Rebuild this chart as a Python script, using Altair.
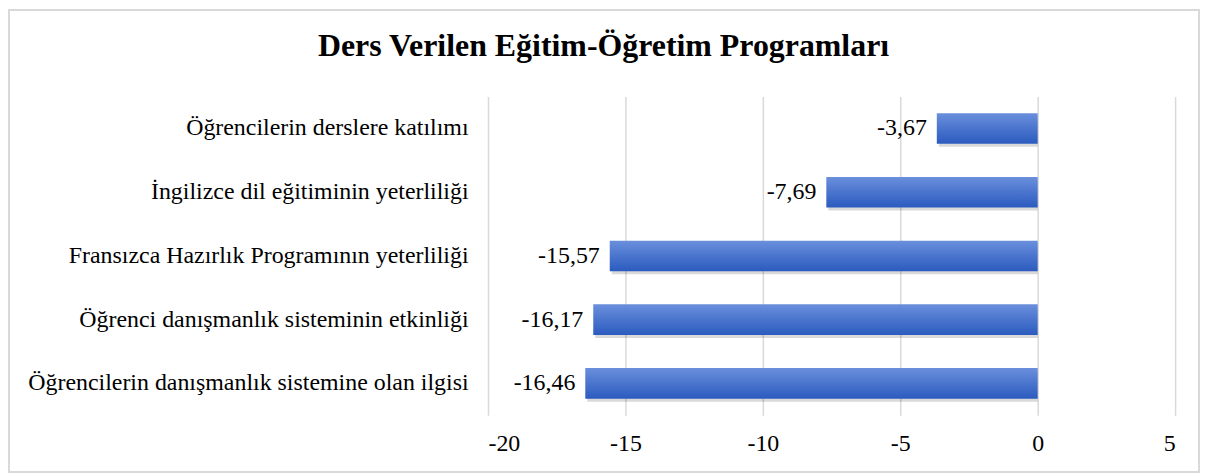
import altair as alt
import pandas as pd

categories = [
    "Öğrencilerin derslere katılımı",
    "İngilizce dil eğitiminin yeterliliği",
    "Fransızca Hazırlık Programının yeterliliği",
    "Öğrenci danışmanlık sisteminin etkinliği",
    "Öğrencilerin danışmanlık sistemine olan ilgisi",
]
values = [-3.67, -7.69, -15.57, -16.17, -16.46]
value_labels = ["-3,67", "-7,69", "-15,57", "-16,17", "-16,46"]
x_ticks = [-20, -15, -10, -5, 0, 5]
title_text = ["Ders Verilen Eğitim-Öğretim Programları"]

FONT = "Liberation Serif"

df = pd.DataFrame({"cat": categories, "val": values, "lab": value_labels})
frame_df = pd.DataFrame({"t": title_text})

y_enc = alt.Y(
    "cat:N", sort=categories, title=None,
    scale=alt.Scale(paddingInner=0.52, paddingOuter=0.26),
    axis=alt.Axis(labelFont=FONT, labelFontSize=24, labelColor="#000000",
                  labelPadding=20, ticks=False, domain=False, grid=False,
                  labelLimit=700),
)
x_enc = alt.X(
    "val:Q", title=None,
    scale=alt.Scale(domain=[-20, 5], nice=False, zero=False),
    axis=alt.Axis(values=x_ticks, labelFont=FONT, labelFontSize=24,
                  labelColor="#000000", labelPadding=16, ticks=False,
                  domain=False, grid=True, gridColor="#d9d9d9", gridWidth=1.5,
                  labelExpr="datum.value + ''"),
)

gradient = alt.LinearGradient(
    gradient="linear",
    stops=[alt.GradientStop(color="#6a8fdc", offset=0),
           alt.GradientStop(color="#2b5bbf", offset=1)],
    x1=0, x2=0, y1=0, y2=1,
)

frame = alt.Chart(frame_df)
border = frame.mark_rect(
    fillOpacity=0, stroke="#d9d9d9", strokeWidth=2
).encode(
    x=alt.value(-481), x2=alt.value(714), y=alt.value(-87), y2=alt.value(377)
)
title = frame.mark_text(
    font=FONT, fontSize=32, fontWeight="bold", color="#000000",
    align="center", baseline="alphabetic"
).encode(x=alt.value(116), y=alt.value(-41), text="t:N")

base = alt.Chart(df)

shadow = base.mark_bar(color="#000000", opacity=0.15, xOffset=2, yOffset=3).encode(
    x=x_enc, x2=alt.datum(0), y=y_enc
)
bars = base.mark_bar(color=gradient).encode(
    x=x_enc, x2=alt.datum(0), y=y_enc
)
texts = base.mark_text(
    align="right", baseline="middle", dx=-10, font=FONT, fontSize=24, color="#000000"
).encode(x=x_enc, y=y_enc, text="lab:N")

chart = alt.layer(border, title, shadow, bars, texts).properties(
    width=690, height=320, padding=0, background="#ffffff",
).configure_view(stroke="transparent")

chart.save("out.html", embed_options={"renderer": "svg", "actions": False})
